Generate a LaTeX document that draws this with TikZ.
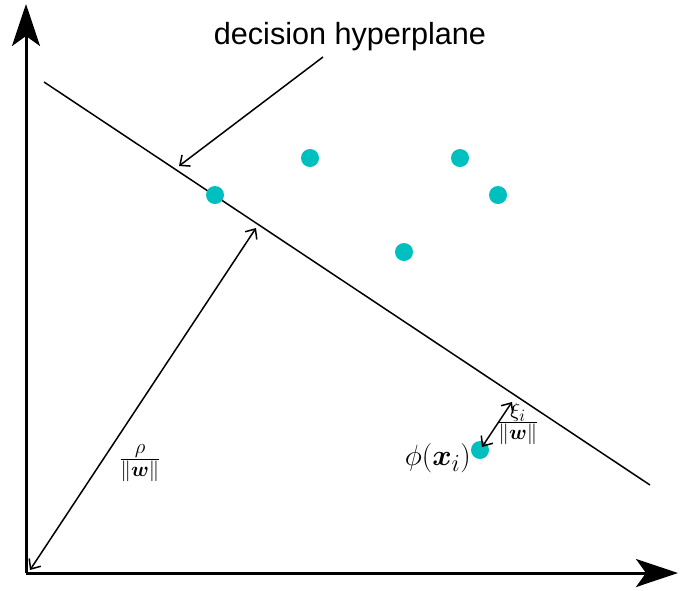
\documentclass[tikz,border=0pt]{standalone}
\usepackage{amsmath}
\usepackage{graphicx}
\usepackage{fontspec}
\setsansfont{Liberation Sans}
\usetikzlibrary{arrows.meta}
\definecolor{dotc}{RGB}{0,191,191}
\begin{document}
\begin{tikzpicture}[x=1pt,y=-1pt,
  axis/.style={line width=3pt,-{Stealth[length=42pt,width=28pt,inset=10pt]}},
  lineth/.style={line width=1.5pt},
  arr/.style={lineth,-{Straight Barb[length=8pt,width=14pt]}},
  darr/.style={lineth,{Straight Barb[length=8pt,width=14pt]}-{Straight Barb[length=8pt,width=14pt]}},
  dot/.style={circle,fill=dotc,minimum size=18pt,inner sep=0pt},
  mlbl/.style={font=\fontsize{24.88}{30}\selectfont,inner sep=0pt},
  tlbl/.style={font=\sffamily\fontsize{30.6}{36}\selectfont,inner sep=0pt}]
\useasboundingbox (0,0) rectangle (680,590);
% axes
\coordinate (O) at (26,573);
\coordinate (Ytop) at (26,4);
\coordinate (Xend) at (678,573);
\draw[axis] (O) -- (Ytop);
\draw[axis] (O) -- (Xend);
% hyperplane
\coordinate (H1) at (44,82);
\coordinate (H2) at (650,485);
\draw[lineth] (H1) -- (H2);
% label and arrow
\node[tlbl] (lbl) at (350,37) {decision hyperplane};
\coordinate (D1) at (323,57);
\coordinate (D2) at (179,166);
\draw[arr] (D1) -- (D2);
% points
\node[dot] (p1) at (215,195) {};
\node[dot] (p2) at (310,158) {};
\node[dot] (p3) at (460,158) {};
\node[dot] (p4) at (498,195) {};
\node[dot] (p5) at (404,252) {};
\node[dot] (p6) at (480,450) {};
% margins
\coordinate (R1) at (30,570);
\coordinate (R2) at (256,228);
\draw[darr] (R1) -- (R2);
\node[mlbl] (rho) at (140,463) {$\frac{\rho}{\|\boldsymbol{w}\|}$};
\coordinate (X1) at (512,402);
\coordinate (X2) at (482,447);
\draw[darr] (X1) -- (X2);
\node[mlbl] (xi) at (518,424) {$\frac{\xi_i}{\|\boldsymbol{w}\|}$};
\node[mlbl,anchor=east] (phi) at (471,458) {\scalebox{1.18}{$\phi(\boldsymbol{x}_i)$}};
\end{tikzpicture}
\end{document}
